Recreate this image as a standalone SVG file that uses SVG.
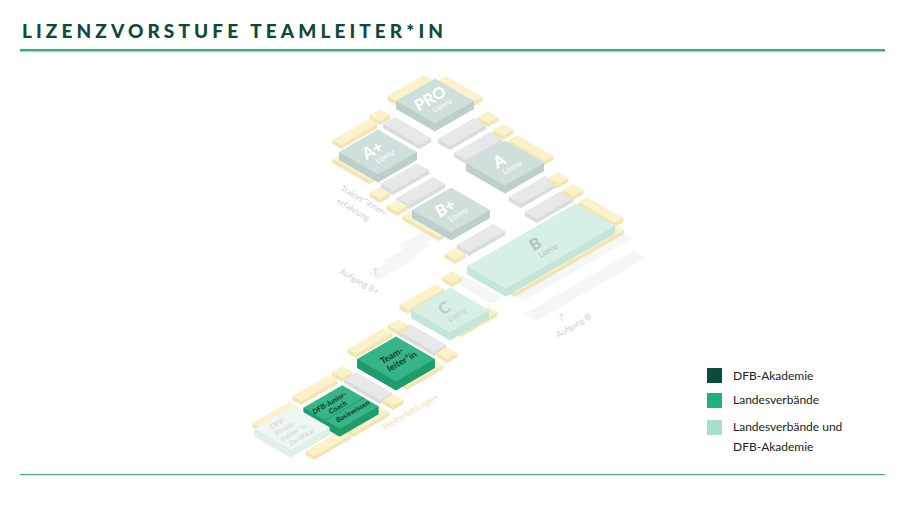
<svg xmlns="http://www.w3.org/2000/svg" xmlns:xlink="http://www.w3.org/1999/xlink" width="905" height="509" viewBox="0 0 905 509">
<style>
.yt{fill:#fbf2cc}.ys{fill:#f1e5b3}
.gt{fill:#e6e8e9}.gs{fill:#d8dcde}
.ft{fill:#f5f7f6}.fs{fill:#eef2f0}
.dt{fill:#cfdfdc}.ds{fill:#bccfcb}
.mt{fill:#d6f0e6}.ms{fill:#c3e6d8}
.lt{fill:#37b586}.ls{fill:#1f9c6d}
.kt{fill:#eef7f3}.ks{fill:#e1efe9}
text{font-family:Lato,"Open Sans","Liberation Sans",sans-serif}
.big{font-size:16px;font-weight:900;fill:#fff}
.liz{font-size:7.5px;fill:#fff}
.lab{font-size:8.5px;fill:#cfcfcf}
.leg{font-size:12px;fill:#222}
.dk{font-weight:700;fill:#0d3a2e}
</style>
<defs>
<g id="xbar"><path class="ys" d="M-21,-5L-25,-1L-25,9L17,9L21,5Z"/><rect class="yt" x="-21" y="-5" width="42" height="10"/></g>
<g id="ybar"><path class="ys" d="M-5,-21L-9,-17L-9,25L1,25L5,21Z"/><rect class="yt" x="-5" y="-21" width="10" height="42"/></g>
<g id="sq"><path class="ys" d="M-6,-6L-10,-2L-10,10L2,10L6,6Z"/><rect class="yt" x="-6" y="-6" width="12" height="12"/></g>
<g id="gy"><path class="gs" d="M-7,-21L-11,-17L-11,25L3,25L7,21Z"/><rect class="gt" x="-7" y="-21" width="14" height="42"/></g>
<g id="gx"><path class="gs" d="M-21,-7L-25,-3L-25,11L17,11L21,7Z"/><rect class="gt" x="-21" y="-7" width="42" height="14"/></g>
<g id="fx"><rect class="ft" x="-22" y="-6" width="44" height="12"/></g>
<g id="fl"><rect class="ft" x="-63" y="-7" width="126" height="14"/></g>
</defs>

<g id="title">
<text x="22" y="38" font-size="19" font-weight="900" fill="#0e4a3a" letter-spacing="3" textLength="424">LIZENZVORSTUFE TEAMLEITER*IN</text>
<rect x="20" y="49" width="865" height="2.5" fill="#2bb07f"/>
<rect x="20" y="474" width="865" height="1.2" fill="#4aa983"/>
</g>

<g id="scenery">
<use href="#fx" transform="translate(422,238) matrix(.866,-.5,.866,.5,0,0)"/>
<use href="#fx" transform="translate(407,253) matrix(.866,-.5,.866,.5,0,0)"/>
<use href="#fx" transform="translate(392,266) matrix(.866,-.5,.866,.5,0,0)"/>
<use href="#fl" transform="translate(572,266) matrix(.866,-.5,.866,.5,0,0)"/>
<use href="#fl" transform="translate(585,286) matrix(.866,-.5,.866,.5,0,0)"/>
<use href="#fx" transform="translate(478,290) matrix(.866,.5,-.866,.5,0,0)"/>
<use href="#gy" transform="translate(407,131) matrix(.866,-.5,.866,.5,0,0)"/>
<use href="#gx" transform="translate(462,132) matrix(.866,-.5,.866,.5,0,0)"/>
<use href="#gx" transform="translate(478,146) matrix(.866,-.5,.866,.5,0,0)"/>
<use href="#gx" transform="translate(405,177) matrix(.866,-.5,.866,.5,0,0)"/>
<use href="#gx" transform="translate(421,191) matrix(.866,-.5,.866,.5,0,0)"/>
<use href="#gx" transform="translate(533,190) matrix(.866,-.5,.866,.5,0,0)"/>
<use href="#gx" transform="translate(549,205) matrix(.866,-.5,.866,.5,0,0)"/>
<use href="#gx" transform="translate(481,238) matrix(.866,-.5,.866,.5,0,0)"/>
<use href="#gy" transform="translate(422,338) matrix(.866,-.5,.866,.5,0,0)"/>
<use href="#gy" transform="translate(368,386) matrix(.866,-.5,.866,.5,0,0)"/>
<use href="#xbar" transform="translate(410,88) matrix(.866,-.5,.866,.5,0,0)"/>
<use href="#ybar" transform="translate(460,89) matrix(.866,-.5,.866,.5,0,0)"/>
<use href="#sq" transform="translate(380,115) matrix(.866,-.5,.866,.5,0,0)"/>
<use href="#sq" transform="translate(488,117) matrix(.866,-.5,.866,.5,0,0)"/>
<use href="#sq" transform="translate(503,130) matrix(.866,-.5,.866,.5,0,0)"/>
<use href="#xbar" transform="translate(355,132) matrix(.866,-.5,.866,.5,0,0)"/>
<use href="#ybar" transform="translate(355,167) matrix(.866,-.5,.866,.5,0,0)"/>
<use href="#ybar" transform="translate(531,148) matrix(.866,-.5,.866,.5,0,0)"/>
<use href="#sq" transform="translate(558,178) matrix(.866,-.5,.866,.5,0,0)"/>
<use href="#sq" transform="translate(573,190) matrix(.866,-.5,.866,.5,0,0)"/>
<use href="#sq" transform="translate(380,193) matrix(.866,-.5,.866,.5,0,0)"/>
<use href="#sq" transform="translate(397,206) matrix(.866,-.5,.866,.5,0,0)"/>
<use href="#ybar" transform="translate(425,224) matrix(.866,-.5,.866,.5,0,0)"/>
<use href="#ybar" transform="translate(601,210) matrix(.866,-.5,.866,.5,0,0)"/>
<use href="#sq" transform="translate(455,254) matrix(.866,-.5,.866,.5,0,0)"/>
<use href="#sq" transform="translate(452,277) matrix(.866,-.5,.866,.5,0,0)"/>
<g transform="translate(565,259) matrix(.866,-.5,.866,.5,0,0)"><path class="ys" d="M-63,-5L-67,-1L-67,9L59,9L63,5Z"/><rect class="yt" x="-63" y="-5" width="126" height="10"/></g>
<use href="#xbar" transform="translate(422,297) matrix(.866,-.5,.866,.5,0,0)"/>
<use href="#xbar" transform="translate(475,320) matrix(.866,-.5,.866,.5,0,0)"/>
<use href="#sq" transform="translate(398,325) matrix(.866,-.5,.866,.5,0,0)"/>
<use href="#sq" transform="translate(447,353) matrix(.866,-.5,.866,.5,0,0)"/>
<use href="#xbar" transform="translate(370,341) matrix(.866,-.5,.866,.5,0,0)"/>
<use href="#xbar" transform="translate(421,373) matrix(.866,-.5,.866,.5,0,0)"/>
<use href="#sq" transform="translate(342,372) matrix(.866,-.5,.866,.5,0,0)"/>
<use href="#sq" transform="translate(393,400) matrix(.866,-.5,.866,.5,0,0)"/>
<use href="#xbar" transform="translate(315,388) matrix(.866,-.5,.866,.5,0,0)"/>
<use href="#xbar" transform="translate(367,420) matrix(.866,-.5,.866,.5,0,0)"/>
<use href="#xbar" transform="translate(275,415) matrix(.866,-.5,.866,.5,0,0)"/>
<use href="#xbar" transform="translate(328,443) matrix(.866,-.5,.866,.5,0,0)"/>
</g>

<g id="pro">
<g transform="translate(435,101) matrix(.866,-.5,.866,.5,0,0)"><path class="ds" d="M-22.5,-22.5L-30.5,-14.5L-30.5,30.5L14.5,30.5L22.5,22.5Z"/><rect class="dt" x="-22.5" y="-22.5" width="45" height="45"/></g>
<g transform="translate(435,101) rotate(-30)"><text class="big" x="-3" y="1" text-anchor="middle">PRO</text><text class="liz" x="4" y="10" text-anchor="middle">Lizenz</text></g></g>
<g id="aplus">
<g transform="translate(378,152) matrix(.866,-.5,.866,.5,0,0)"><path class="ds" d="M-22.5,-22.5L-30.5,-14.5L-30.5,30.5L14.5,30.5L22.5,22.5Z"/><rect class="dt" x="-22.5" y="-22.5" width="45" height="45"/></g>
<g transform="translate(378,152) rotate(-30)"><text class="big" x="-4" y="1" text-anchor="middle">A+</text><text class="liz" x="4" y="10" text-anchor="middle">Lizenz</text></g></g>
<g id="a">
<g transform="translate(505,163) matrix(.866,-.5,.866,.5,0,0)"><path class="ds" d="M-22.5,-22.5L-30.5,-14.5L-30.5,30.5L14.5,30.5L22.5,22.5Z"/><rect class="dt" x="-22.5" y="-22.5" width="45" height="45"/></g>
<g transform="translate(505,163) rotate(-30)"><text class="big" x="-4" y="1" text-anchor="middle">A</text><text class="liz" x="4" y="10" text-anchor="middle">Lizenz</text></g></g>
<g id="bplus">
<g transform="translate(451,210) matrix(.866,-.5,.866,.5,0,0)"><path class="ds" d="M-22.5,-22.5L-30.5,-14.5L-30.5,30.5L14.5,30.5L22.5,22.5Z"/><rect class="dt" x="-22.5" y="-22.5" width="45" height="45"/></g>
<g transform="translate(451,210) rotate(-30)"><text class="big" x="-4" y="1" text-anchor="middle">B+</text><text class="liz" x="4" y="10" text-anchor="middle">Lizenz</text></g></g>
<g id="b">
<g transform="translate(541,246) matrix(.866,-.5,.866,.5,0,0)"><path class="ms" d="M-63,-22.5L-71,-14.5L-71,30.5L55,30.5L63,22.5Z"/><rect class="mt" x="-63" y="-22.5" width="126" height="45"/></g>
<g transform="translate(541,246) rotate(-30)"><text class="big" x="-4" y="1" text-anchor="middle" style="fill:#b9c2bf">B</text><text class="liz" x="4" y="10" text-anchor="middle" style="fill:#b9c2bf">Lizenz</text></g></g>
<g id="c">
<g transform="translate(450,310) matrix(.866,-.5,.866,.5,0,0)"><path class="ms" d="M-22.5,-22.5L-30.5,-14.5L-30.5,30.5L14.5,30.5L22.5,22.5Z"/><rect class="mt" x="-22.5" y="-22.5" width="45" height="45"/></g>
<g transform="translate(450,310) rotate(-30)"><text class="big" x="-4" y="1" text-anchor="middle" style="fill:#c3ccc8">C</text><text class="liz" x="4" y="10" text-anchor="middle" style="fill:#c3ccc8">Lizenz</text></g></g>
<g id="teamleiter">
<g transform="translate(396,359) matrix(.866,-.5,.866,.5,0,0)"><path class="ls" d="M-22.5,-22.5L-31.5,-13.5L-31.5,31.5L13.5,31.5L22.5,22.5Z"/><rect class="lt" x="-22.5" y="-22.5" width="45" height="45"/></g>
<g transform="translate(396,359) rotate(-30)"><text class="dk" font-size="9" x="-2" y="-2" text-anchor="middle">Team-</text><text class="dk" font-size="9" x="4" y="8" text-anchor="middle">leiter*in</text></g></g>
<g id="junior">
<g transform="translate(341,407) matrix(.866,-.5,.866,.5,0,0)"><path class="ls" d="M-22.5,-21L-30.5,-13L-30.5,29L14.5,29L22.5,21Z"/><rect class="lt" x="-22.5" y="-21" width="45" height="42"/><line x1="-22.5" y1="4" x2="22.5" y2="4" stroke="#1f9c6d" stroke-width="1"/></g>
<g transform="translate(341,407) rotate(-30)"><text class="dk" font-size="7" x="-8" y="-7" text-anchor="middle">DFB-Junior-</text><text class="dk" font-size="7" x="-3" y="1" text-anchor="middle">Coach</text><text class="dk" font-size="7" x="8" y="12" text-anchor="middle">Basiswissen</text></g></g>
<g id="kinder">
<g transform="translate(292,428) matrix(.866,-.5,.866,.5,0,0)"><path class="ks" d="M-22.5,-21L-30.5,-13L-30.5,29L14.5,29L22.5,21Z"/><rect class="kt" x="-22.5" y="-21" width="45" height="42"/></g>
<g transform="translate(292,428) rotate(-30)" font-size="7" fill="#cdd4d1" text-anchor="middle"><text x="-10" y="-9">DFB-</text><text x="-6" y="-1">Kinder-</text><text x="-1" y="7">trainer*in</text><text x="4" y="15">Zertifikat</text></g></g>

<g id="labels">
<text class="lab" transform="translate(340,190) rotate(30)">Trainer*innen-</text>
<text class="lab" transform="translate(336,203) rotate(30)">erfahrung</text>
<text class="lab" transform="translate(339,273) rotate(30)">Aufgang B+</text>
<text class="lab" transform="translate(372,274)">↑</text>
<text class="lab" transform="translate(558,338) rotate(-30)">Aufgang B</text>
<text class="lab" transform="translate(558,320)">↑</text>
<text class="lab" style="fill:#f2e2a6" transform="translate(385,430) rotate(-30)">Weiterbildungen</text>
</g>

<g id="legend">
<rect x="707" y="368" width="15" height="15" fill="#0b4d3c"/>
<rect x="707" y="393" width="15" height="15" fill="#22ae7d"/>
<rect x="707" y="420" width="15" height="15" fill="#a6dec8"/>
<text class="leg" x="733" y="380">DFB-Akademie</text>
<text class="leg" x="733" y="404">Landesverbände</text>
<text class="leg" x="733" y="431">Landesverbände und</text>
<text class="leg" x="733" y="451">DFB-Akademie</text>
</g>
</svg>
